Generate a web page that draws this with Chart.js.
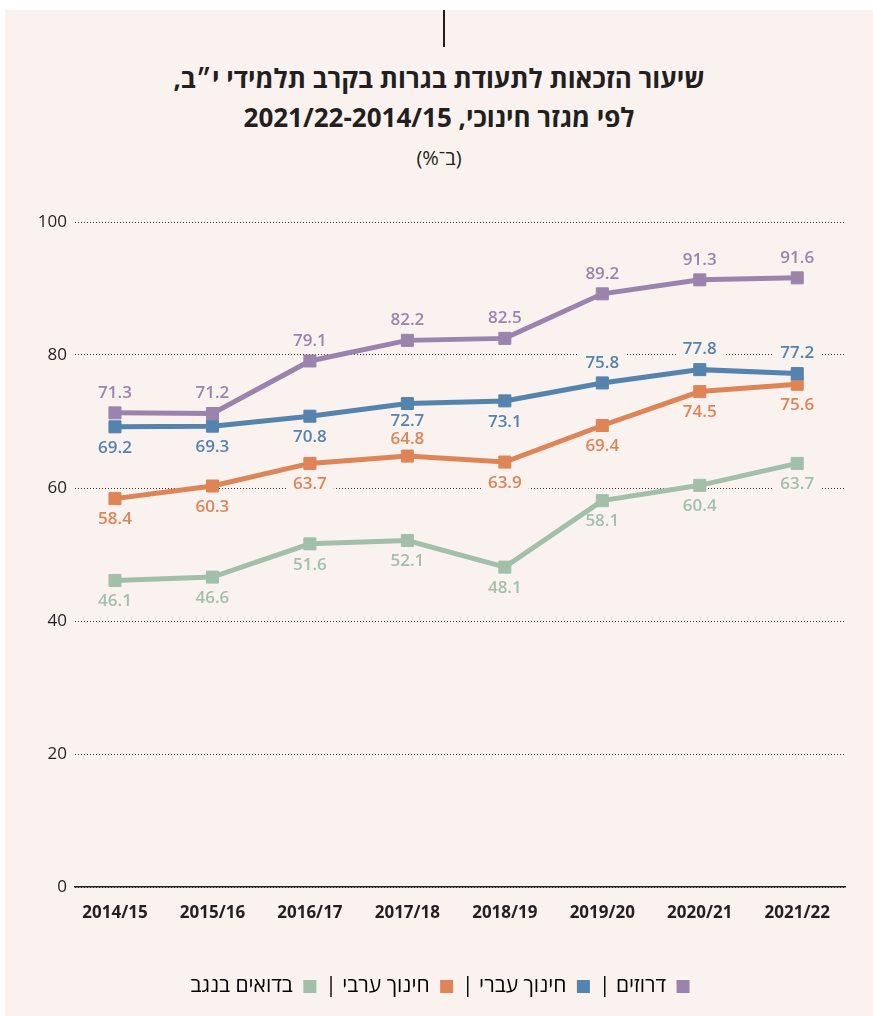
<!DOCTYPE html>
<html lang="he">
<head>
<meta charset="utf-8">
<script src="https://cdn.jsdelivr.net/npm/chart.js@4"></script>
<style>
  html, body { margin: 0; padding: 0; background: #fff; }
  body { width: 873px; height: 1016px; position: relative; overflow: hidden; }
  #panel {
    position: absolute; left: 5px; top: 10px; right: 0; bottom: 0;
    background: #faf2ef;
  }
  #topLine { position: absolute; left: 438px; top: 0; width: 2px; height: 37px; background: #231f20; }
  .title {
    position: absolute; left: 0; right: 0; text-align: center; direction: rtl;
    font-family: "Open Sans", "Liberation Sans", sans-serif; font-weight: 700;
    font-size: 26px; color: #231f20; line-height: 30px;
  }
  #sub {
    position: absolute; left: 0; right: 0; top: 134px; text-align: center; direction: rtl;
    font-family: "Open Sans", "Liberation Sans", sans-serif; font-size: 20px; color: #231f20;
  }
  #wrap { position: absolute; left: 0; top: 180px; width: 868px; height: 826px; }
</style>
</head>
<body>
<div id="panel">
  <div id="topLine"></div>
  <div class="title" style="top:53px">שיעור הזכאות לתעודת בגרות בקרב תלמידי י״ב,</div>
  <div class="title" style="top:92px">לפי מגזר חינוכי, 2021/22-2014/15</div>
  <div id="sub">(ב־%)</div>
  <div id="wrap"><canvas id="chart"></canvas></div>
</div>
<script>
const years = ['2014/15', '2015/16', '2016/17', '2017/18', '2018/19', '2019/20', '2020/21', '2021/22'];
const seriesNames = ['דרוזים', 'חינוך עברי', 'חינוך ערבי', 'בדואים בנגב'];
const druze   = [71.3, 71.2, 79.1, 82.2, 82.5, 89.2, 91.3, 91.6];
const hebrew  = [69.2, 69.3, 70.8, 72.7, 73.1, 75.8, 77.8, 77.2];
const arab    = [58.4, 60.3, 63.7, 64.8, 63.9, 69.4, 74.5, 75.6];
const bedouin = [46.1, 46.6, 51.6, 52.1, 48.1, 58.1, 60.4, 63.7];
const yTicks  = [0, 20, 40, 60, 80, 100];

const colors = ['#9a84ad', '#5483ad', '#de8457', '#a2bfaa'];
// vertical offset of each value label from its point, px (negative = above)
const labelOffset = [
  [-20, -20, -20, -20, -20, -20, -20, -20],
  [21, 21, 21, 18, 21, -20, -20, -20],
  [21, 21, 21, -17, 21, 21, 21, 21],
  [21, 21, 21, 21, 21, 21, 21, 21]
];
const bg = '#faf2ef';
const ink = '#231f20';
const family = '"Open Sans", "Liberation Sans", sans-serif';
const numFont = '600 17px ' + family;

const valueLabels = {
  id: 'valueLabels',
  beforeDatasetsDraw(chart) {
    const ctx = chart.ctx;
    ctx.save();
    ctx.font = numFont;
    chart.data.datasets.forEach((ds, di) => {
      chart.getDatasetMeta(di).data.forEach((pt, i) => {
        const txt = ds.data[i].y.toFixed(1);
        const w = ctx.measureText(txt).width;
        const y = pt.y + labelOffset[di][i];
        ctx.fillStyle = bg;
        ctx.fillRect(pt.x - w / 2 - 7, y - 9, w + 14, 18);
      });
    });
    ctx.restore();
  },
  afterDatasetsDraw(chart) {
    const ctx = chart.ctx;
    ctx.save();
    ctx.font = numFont;
    ctx.textAlign = 'center';
    ctx.textBaseline = 'middle';
    chart.data.datasets.forEach((ds, di) => {
      chart.getDatasetMeta(di).data.forEach((pt, i) => {
        ctx.fillStyle = colors[di];
        ctx.fillText(ds.data[i].y.toFixed(1), pt.x, pt.y + labelOffset[di][i]);
      });
    });
    ctx.restore();
  }
};

const allSeries = [druze, hebrew, arab, bedouin];

new Chart(document.getElementById('chart'), {
  type: 'line',
  data: {
    datasets: allSeries.map((vals, k) => ({
      label: seriesNames[k],
      data: vals.map((v, i) => ({ x: i, y: v })),
      borderColor: colors[k],
      backgroundColor: colors[k],
      borderWidth: 5,
      pointStyle: 'rect',
      pointRadius: 8.5,
      pointBorderWidth: 1,
      pointBorderColor: colors[k],
      tension: 0,
      fill: false
    }))
  },
  options: {
    responsive: true,
    maintainAspectRatio: false,
    animation: false,
    layout: { padding: { top: 32, right: 28, left: 30, bottom: 9 } },
    plugins: {
      tooltip: { enabled: false },
      legend: {
        position: 'bottom',
        rtl: true,
        textDirection: 'rtl',
        labels: {
          color: ink,
          font: { family: family, size: 21 },
          boxWidth: 13,
          boxHeight: 13,
          padding: 9,
          generateLabels(chart) {
            return chart.data.datasets.map((ds, i) => ({
              text: i < chart.data.datasets.length - 1 ? ds.label + ' |' : ds.label,
              fillStyle: colors[i],
              strokeStyle: colors[i],
              lineWidth: 0,
              datasetIndex: i
            }));
          }
        }
      }
    },
    scales: {
      x: {
        type: 'linear',
        min: -0.41,
        max: 7.49,
        afterBuildTicks(s) { s.ticks = years.map((y, i) => ({ value: i })); },
        afterFit(s) { s.height = 80; },
        grid: { display: false },
        border: { display: true, color: ink, width: 1.5 },
        ticks: {
          autoSkip: false,
          padding: 8,
          color: ink,
          font: { family: family, size: 17, weight: '700' },
          callback: v => years[v]
        }
      },
      y: {
        min: 0,
        max: 100,
        afterBuildTicks(s) { s.ticks = yTicks.map(v => ({ value: v })); },
        afterFit(s) { s.width = 40; },
        grid: { color: '#3a3637', lineWidth: 1, drawTicks: false },
        border: { display: false, dash: [1, 2] },
        ticks: {
          padding: 8,
          color: ink,
          font: { family: family, size: 17 }
        }
      }
    }
  },
  plugins: [valueLabels]
});
</script>
</body>
</html>
